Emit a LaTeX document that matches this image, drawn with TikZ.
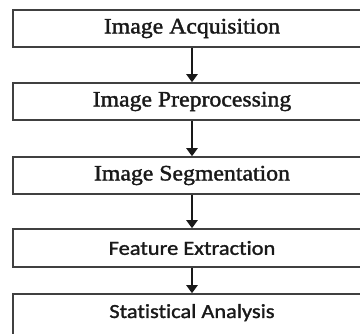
\documentclass[tikz,border=0pt]{standalone}
\usepackage{fontspec}
\usetikzlibrary{arrows.meta}
\newfontfamily\serffont{Liberation Serif}[FakeStretch=1.08, FakeBold=1.6]
\newfontfamily\califont{Carlito}[FakeStretch=1.12, FakeBold=1.4, Ligatures=NoCommon]
\begin{document}
\begin{tikzpicture}[x=1pt,y=-1pt,
  box/.style={draw=black!75, line width=1.5pt, minimum width=358pt, minimum height=37pt, inner sep=0pt},
  serftext/.style={font=\serffont\fontsize{22}{24}\selectfont, text=black!90},
  calitext/.style={font=\califont\fontsize{20}{22}\selectfont, text=black!90},
  arr/.style={draw=black!90, line width=2pt, -{Triangle[length=8pt,width=11pt]}}]
\useasboundingbox (0,0) rectangle (360,334);
\clip (0,0) rectangle (360,334);
\node[box, serftext] (a) at (192,28.5) {Image Acquisition};
\node[box, serftext] (b) at (192,101.5) {Image Preprocessing};
\node[box, serftext] (c) at (192,175.5) {Image Segmentation};
\node[box, calitext, minimum height=38pt] (d) at (192,248) {Feature Extraction};
\node[box, calitext, minimum height=0pt, text height=24pt, text depth=26pt] (e) at (192,319) {Statistical Analysis};
\draw[arr] (a.south) -- (b.north);
\draw[arr] (b.south) -- (c.north);
\draw[arr] (c.south) -- (d.north);
\draw[arr] (d.south) -- (e.north);
\end{tikzpicture}
\end{document}
